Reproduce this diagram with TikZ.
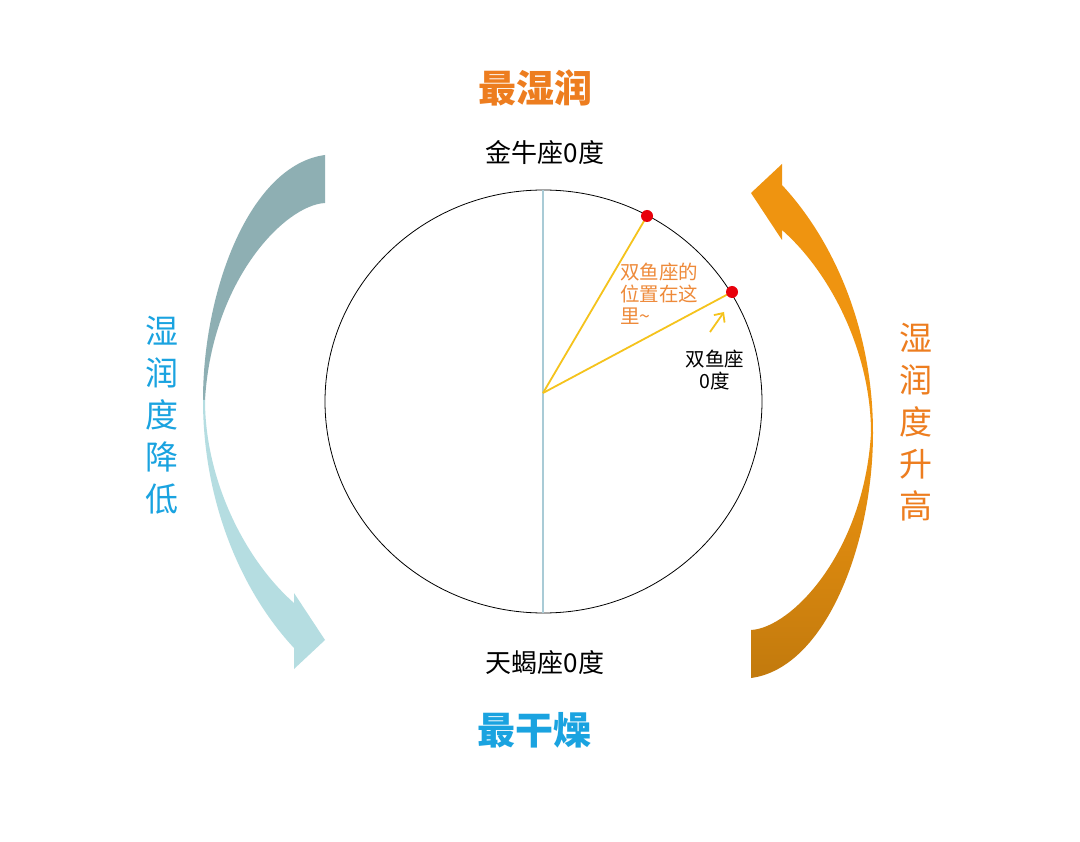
\documentclass[tikz,border=0pt]{standalone}
\usepackage{fontspec}
\setmainfont{Noto Sans CJK SC}
\usetikzlibrary{arrows.meta}
\definecolor{orangeT}{HTML}{ED7D1F}
\definecolor{blueT}{HTML}{1AA3E0}
\definecolor{noteT}{HTML}{EE8A3A}
\definecolor{tealDark}{HTML}{8EAFB3}
\definecolor{tealLight}{HTML}{B5DDE1}
\definecolor{orA}{HTML}{EF9410}
\definecolor{orB}{HTML}{C27A0D}
\definecolor{yel}{HTML}{F5C31C}
\definecolor{vline}{HTML}{A9CBD6}
\definecolor{dotred}{HTML}{E8000B}
\begin{document}
\begin{tikzpicture}[x=1pt,y=-1pt,
  bigbold/.style={font=\bfseries\fontsize{38}{42}\selectfont, inner sep=0pt},
  lbl/.style={font=\fontsize{26}{30}\selectfont, inner sep=0pt, text=black},
  vtext/.style={font=\fontsize{33}{42}\selectfont, align=center, inner sep=0pt},
  small/.style={font=\fontsize{19.5}{22}\selectfont, inner sep=0pt},
  ray/.style={yel, line width=1.8pt},
  reddot/.style={circle, fill=dotred, minimum size=12pt, inner sep=0pt}]
\useasboundingbox (0,0) rectangle (1080,842);
\fill[white] (0,0) rectangle (1080,842);

% left curved arrow (tail dark, head light)
\fill[tealDark] (325,155) .. controls (250,165) and (203,290) .. (203,400)
  -- (205,400) .. controls (212,280) and (285,205) .. (325,203) -- cycle;
\fill[tealLight] (203,400) .. controls (203,500) and (240,590) .. (294,648)
  -- (294,669) -- (325,640) -- (294,593) -- (294,603)
  .. controls (245,560) and (205,480) .. (205,400) -- cycle;

% right curved arrow (head orange, tail darker)
\fill[orA] (873,433) .. controls (873,333) and (836,243) .. (782,185)
  -- (782,164) -- (751,193) -- (782,240) -- (782,230)
  .. controls (831,273) and (871,353) .. (871,433) -- cycle;
\shade[top color=orA, bottom color=orB] (751,678) .. controls (826,668) and (873,543) .. (873,433)
  -- (871,433) .. controls (864,553) and (791,628) .. (751,630) -- cycle;

% circle and axis
\coordinate (o) at (543.5,401.5);
\draw[black, line width=0.8pt] (o) ellipse [x radius=218.5, y radius=211.5];
\coordinate (top) at (543,190);
\coordinate (bot) at (543,613);
\draw[vline, line width=1.6pt] (top) -- (bot);

% rays
\coordinate (c) at (543,393);
\coordinate (p1) at (647,216);
\coordinate (p2) at (732,292);
\draw[ray] (c) -- (p1);
\draw[ray] (c) -- (p2);
\node[reddot] (d1) at (p1) {};
\node[reddot] (d2) at (p2) {};
\coordinate (a1) at (710,332);
\coordinate (a2) at (724,312);
\draw[ray, -{Straight Barb[length=7pt,width=13pt]}] (a1) -- (a2);

% texts
\node[bigbold, text=orangeT] (wet) at (535,88) {最湿润};
\node[lbl] (tau) at (545,153) {金牛座0度};
\node[lbl] (sco) at (545,663) {天蝎座0度};
\node[bigbold, text=blueT] (dry) at (534,730) {最干燥};
\node[vtext, text=blueT] (down) at (162,415) {湿\\润\\度\\降\\低};
\node[vtext, text=orangeT] (up) at (916,422) {湿\\润\\度\\升\\高};
\node[small, text=noteT, align=left, anchor=west] (note) at (620,294) {双鱼座的\\位置在这\\里\textasciitilde};
\node[small, text=black, align=center] (pis) at (715,370) {双鱼座\\0度};
\end{tikzpicture}
\end{document}
